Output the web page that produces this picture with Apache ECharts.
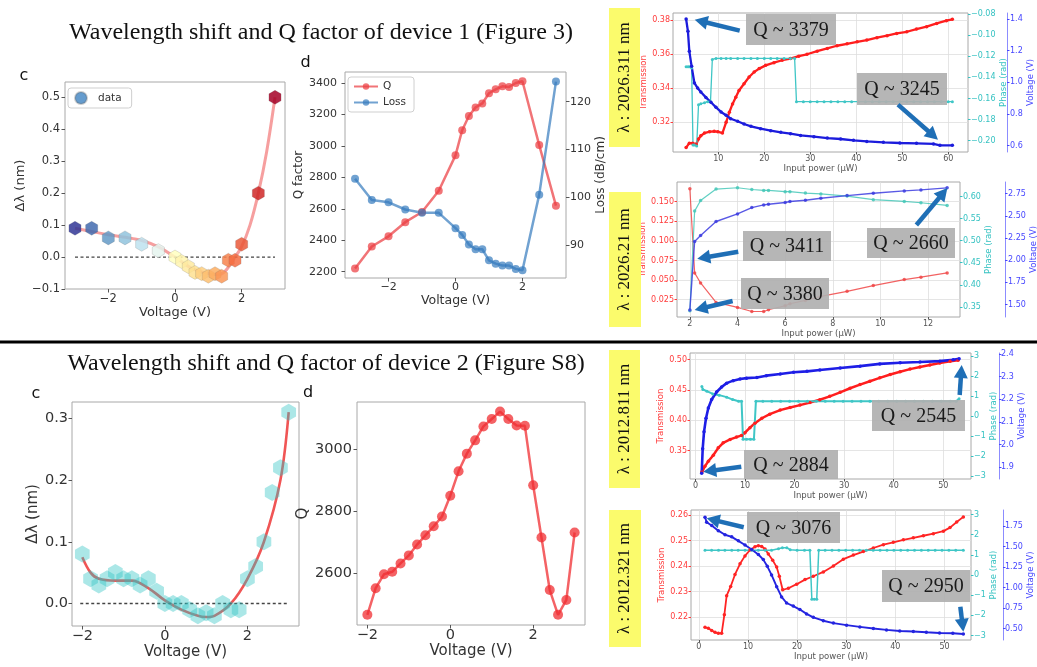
<!DOCTYPE html>
<html>
<head>
<meta charset="utf-8">
<script src="https://cdn.jsdelivr.net/npm/echarts@6/dist/echarts.min.js"></script>
<style>
  html, body { margin: 0; padding: 0; background: #fff; }
  #chart { width: 1037px; height: 667px; }
</style>
</head>
<body>
<div id="chart"></div>
<script>
// ===== Device 1 — panel c: wavelength shift vs voltage =====
const c1Voltage = [-3, -2.5, -2, -1.5, -1, -0.5, 0, 0.2, 0.4, 0.6, 0.8, 1.0, 1.2, 1.4, 1.6, 1.8, 2.0, 2.5, 3.0];
const c1Shift   = [0.09, 0.09, 0.06, 0.06, 0.04, 0.02, 0.0, -0.014, -0.03, -0.048, -0.052, -0.06, -0.052, -0.06, -0.01, -0.01, 0.04, 0.2, 0.5];
const c1FitVoltage = [-3, -2.5, -2, -1.5, -1, -0.5, 0, 0.5, 1, 1.3, 1.5, 1.75, 2, 2.25, 2.5, 2.75, 3];
const c1FitShift   = [0.09, 0.08, 0.07, 0.062, 0.052, 0.032, 0.0, -0.035, -0.052, -0.055, -0.045, -0.008, 0.033, 0.1, 0.2, 0.33, 0.5];

// ===== Device 1 — panel d: Q factor and loss vs voltage =====
const d1Voltage = [-3, -2.5, -2, -1.5, -1, -0.5, 0, 0.2, 0.4, 0.6, 0.8, 1.0, 1.2, 1.4, 1.6, 1.8, 2.0, 2.5, 3.0];
const d1Q    = [2220, 2360, 2425, 2515, 2580, 2715, 2940, 3100, 3190, 3245, 3270, 3335, 3360, 3379, 3375, 3400, 3411, 3005, 2620];
const d1Loss = [103.9, 99.5, 99.0, 97.5, 96.8, 96.8, 93.6, 92.2, 90.2, 89.2, 89.2, 86.9, 86.2, 85.8, 85.8, 85.1, 84.8, 100.6, 124.2];

// ===== Device 1 — λ 2026.311 nm sweep: [input power µW, value] =====
const r1Transmission = [[3.0,0.3052],[3.7,0.3078],[4.4,0.3078],[5.2,0.3072],[5.7,0.3102],[6.2,0.3121],[7.0,0.3137],[8.1,0.3145],[9.1,0.3147],[9.9,0.3145],[10.9,0.3137],[11.7,0.3200],[12.4,0.3259],[13.1,0.3308],[13.8,0.3347],[14.5,0.3387],[15.6,0.3426],[16.7,0.3466],[17.8,0.3495],[18.9,0.3515],[20.3,0.3534],[22.1,0.3550],[23.9,0.3564],[25.7,0.3574],[27.5,0.3588],[29.3,0.3599],[31.5,0.3617],[33.7,0.3633],[35.8,0.3649],[38.0,0.3660],[40.2,0.3672],[42.3,0.3682],[44.5,0.3696],[46.7,0.3708],[48.8,0.3721],[51.0,0.3731],[53.1,0.3747],[55.3,0.3761],[57.5,0.3780],[59.6,0.3796],[60.9,0.3804]];
const r1Phase = [[3.0,-0.130],[3.4,-0.130],[3.7,-0.130],[4.2,-0.131],[4.5,-0.204],[4.8,-0.204],[5.3,-0.205],[5.7,-0.166],[6.2,-0.165],[7.0,-0.164],[7.7,-0.163],[8.3,-0.163],[8.7,-0.123],[9.5,-0.122],[10.6,-0.122],[11.7,-0.122],[12.7,-0.122],[14.2,-0.122],[15.6,-0.122],[17.1,-0.122],[18.5,-0.122],[20.0,-0.122],[21.4,-0.122],[22.8,-0.122],[24.3,-0.122],[25.7,-0.122],[26.6,-0.122],[27.0,-0.163],[28.5,-0.163],[30.0,-0.163],[31.5,-0.163],[33.0,-0.163],[34.5,-0.163],[36.0,-0.163],[37.5,-0.163],[39.0,-0.163],[40.5,-0.163],[42.0,-0.163],[43.5,-0.163],[45.0,-0.163],[46.5,-0.163],[48.0,-0.163],[49.5,-0.163],[51.0,-0.163],[52.5,-0.163],[54.0,-0.163],[55.5,-0.163],[57.0,-0.163],[58.5,-0.163],[60.0,-0.163],[60.9,-0.163]];
const r1Voltage = [[3.0,1.400],[3.4,1.322],[3.7,1.196],[4.2,1.101],[4.8,0.996],[5.5,0.964],[6.2,0.939],[7.3,0.905],[8.4,0.874],[9.5,0.842],[10.6,0.813],[11.7,0.792],[12.7,0.770],[14.2,0.754],[15.6,0.737],[17.1,0.722],[19.2,0.707],[21.4,0.695],[23.6,0.684],[25.7,0.676],[27.9,0.665],[30.8,0.657],[33.7,0.648],[36.6,0.642],[39.4,0.634],[42.3,0.627],[45.9,0.621],[49.5,0.617],[53.1,0.615],[56.8,0.611],[58.2,0.602],[60.9,0.602]];

// ===== Device 1 — λ 2026.21 nm sweep =====
const r2Power        = [2.0, 2.2, 2.45, 3.1, 4.0, 4.6, 5.1, 5.3, 6.0, 6.2, 6.85, 7.5, 8.6, 9.7, 11.0, 11.7, 12.8];
const r2Transmission = [0.1663, 0.0592, 0.0464, 0.0216, 0.0152, 0.0100, 0.0100, 0.0122, 0.0173, 0.0199, 0.0241, 0.0293, 0.0357, 0.0430, 0.0507, 0.0537, 0.0592];
const r2Phase        = [0.341, 0.567, 0.591, 0.617, 0.620, 0.616, 0.614, 0.614, 0.611, 0.611, 0.608, 0.606, 0.601, 0.593, 0.589, 0.586, 0.580];
const r2Voltage      = [1.44, 2.21, 2.277, 2.435, 2.521, 2.592, 2.622, 2.63, 2.649, 2.66, 2.675, 2.697, 2.727, 2.754, 2.78, 2.791, 2.814];

// ===== Device 2 — panel c =====
const c2Voltage = [-2.0, -1.8, -1.6, -1.4, -1.2, -1.0, -0.8, -0.6, -0.4, -0.2, 0.0, 0.2, 0.4, 0.6, 0.8, 1.0, 1.2, 1.4, 1.6, 1.8, 2.0, 2.2, 2.4, 2.6, 2.8, 3.0];
const c2Shift   = [0.08, 0.04, 0.03, 0.04, 0.05, 0.04, 0.04, 0.03, 0.04, 0.02, 0.0, 0.0, 0.0, -0.01, -0.02, -0.015, -0.02, 0.0, -0.01, -0.01, 0.04, 0.06, 0.10, 0.18, 0.22, 0.31];
const c2FitVoltage = [-2.0, -1.8, -1.6, -1.2, -0.8, -0.4, 0.0, 0.4, 0.8, 1.0, 1.2, 1.6, 2.0, 2.4, 2.8, 3.0];
const c2FitShift   = [0.075, 0.05, 0.04, 0.037, 0.037, 0.025, 0.005, -0.01, -0.02, -0.022, -0.02, 0.0, 0.04, 0.10, 0.20, 0.31];

// ===== Device 2 — panel d =====
const d2Voltage = [-2.0, -1.8, -1.6, -1.4, -1.2, -1.0, -0.8, -0.6, -0.4, -0.2, 0.0, 0.2, 0.4, 0.6, 0.8, 1.0, 1.2, 1.4, 1.6, 1.8, 2.0, 2.2, 2.4, 2.6, 2.8, 3.0];
const d2Q       = [2465, 2551, 2596, 2604, 2631, 2657, 2692, 2722, 2751, 2783, 2850, 2929, 2986, 3029, 3074, 3098, 3122, 3098, 3077, 3076, 2884, 2715, 2545, 2465, 2513, 2731];

// ===== Device 2 — λ 2012.811 nm sweep =====
const r3Transmission = [[1.3,0.3144],[1.9,0.3239],[2.6,0.3322],[3.6,0.3422],[4.6,0.3544],[5.6,0.3628],[7.0,0.3683],[8.3,0.3722],[9.3,0.3750],[10.0,0.3794],[11.0,0.3878],[12.0,0.3950],[13.4,0.4033],[15.0,0.4100],[17.1,0.4167],[19.1,0.4211],[21.1,0.4250],[23.1,0.4294],[25.1,0.4339],[27.1,0.4394],[29.2,0.4461],[31.2,0.4528],[33.2,0.4589],[35.2,0.4644],[37.2,0.4700],[39.3,0.4756],[41.3,0.4800],[43.3,0.4844],[45.3,0.4878],[47.3,0.4911],[49.3,0.4944],[51.4,0.4972],[53.0,0.4989]];
const r3Phase = [[1.3,1.47],[1.5,1.32],[2.3,1.24],[3.5,1.10],[4.8,1.04],[6.3,0.94],[7.5,0.82],[8.7,0.74],[9.3,0.74],[9.6,-1.16],[10.3,-1.16],[11.1,-1.16],[11.8,-1.16],[12.2,0.74],[13.6,0.74],[15.4,0.74],[17.2,0.74],[19.0,0.74],[20.8,0.74],[22.6,0.74],[24.4,0.74],[26.2,0.74],[28.0,0.74],[29.8,0.74],[31.6,0.74],[33.4,0.74],[35.2,0.74],[37.0,0.74],[38.8,0.74],[40.6,0.74],[42.4,0.74],[44.2,0.74],[46.0,0.74],[47.8,0.74],[49.6,0.74],[51.4,0.74],[52.6,0.74],[53.2,0.86]];
const r3Voltage = [[1.26,1.873],[1.46,1.981],[1.73,2.056],[2.13,2.116],[2.6,2.161],[3.27,2.199],[4.27,2.232],[5.28,2.254],[6.3,2.271],[7.6,2.282],[9.0,2.289],[10.3,2.293],[12.4,2.296],[14.3,2.304],[17.1,2.311],[19.8,2.319],[22.5,2.323],[25.1,2.329],[29.2,2.338],[33.2,2.346],[37.2,2.356],[41.3,2.361],[45.3,2.364],[49.3,2.368],[52.0,2.374],[53.2,2.379]];

// ===== Device 2 — λ 2012.321 nm sweep =====
const r4Transmission = [[1.25,0.2160],[1.93,0.2156],[2.61,0.2147],[3.29,0.2140],[3.96,0.2136],[4.64,0.2136],[5.19,0.2209],[5.66,0.2284],[6.48,0.2320],[7.36,0.2367],[8.38,0.2409],[9.39,0.2440],[10.41,0.2463],[11.43,0.2476],[12.11,0.2480],[12.79,0.2477],[13.47,0.2467],[14.14,0.2447],[15.03,0.2423],[15.84,0.2396],[16.38,0.2360],[17.06,0.2307],[18.22,0.2313],[19.91,0.2329],[21.61,0.2347],[23.3,0.2360],[25.34,0.2377],[27.38,0.2400],[29.41,0.2427],[31.45,0.2443],[33.48,0.2457],[35.52,0.2471],[37.56,0.2484],[39.59,0.2493],[41.63,0.2503],[43.66,0.2511],[45.7,0.2519],[47.73,0.2527],[49.77,0.2537],[51.13,0.2551],[52.49,0.2573],[53.84,0.2593]];
const r4Phase = [[1.25,1.23],[2.6,1.23],[4.0,1.23],[5.3,1.23],[6.7,1.23],[8.0,1.23],[9.4,1.23],[10.8,1.23],[12.1,1.23],[13.5,1.23],[14.8,1.23],[16.2,1.30],[17.0,1.35],[17.9,1.35],[18.6,1.25],[20.0,1.23],[21.5,1.23],[22.6,1.23],[23.0,-1.2],[23.5,-1.2],[24.0,-1.2],[24.4,1.23],[25.7,1.23],[27.1,1.23],[28.5,1.23],[29.9,1.23],[31.3,1.23],[32.7,1.23],[34.1,1.23],[35.5,1.23],[36.9,1.23],[38.3,1.23],[39.7,1.23],[41.1,1.23],[42.5,1.23],[43.9,1.23],[45.3,1.23],[46.7,1.23],[48.1,1.23],[49.5,1.23],[50.9,1.23],[52.3,1.23],[53.84,1.23]];
const r4Voltage = [[1.25,1.858],[1.59,1.796],[2.61,1.755],[3.96,1.693],[5.32,1.643],[6.68,1.618],[8.04,1.569],[9.39,1.519],[10.75,1.464],[12.11,1.402],[13.12,1.34],[13.93,1.258],[14.8,1.154],[15.84,1.01],[16.84,0.885],[17.86,0.811],[19.22,0.774],[20.57,0.731],[21.93,0.678],[23.3,0.637],[25.34,0.595],[27.38,0.566],[30.07,0.541],[32.78,0.52],[35.52,0.5],[38.2,0.483],[40.9,0.47],[43.66,0.463],[46.3,0.454],[49.0,0.446],[51.7,0.442],[53.84,0.433]];

// ===== Tick values =====
const ticksVoltageC = [-2, 0, 2];
const ticksC1Shift = [-0.1, 0, 0.1, 0.2, 0.3, 0.4, 0.5];
const ticksD1Q = [2200, 2400, 2600, 2800, 3000, 3200, 3400];
const ticksD1Loss = [90, 100, 110, 120];
const ticksR1Power = [10, 20, 30, 40, 50, 60];
const ticksR1Trans = [0.32, 0.34, 0.36, 0.38];
const ticksR1Phase = [-0.20, -0.18, -0.16, -0.14, -0.12, -0.10, -0.08];
const ticksR1Volt = [0.6, 0.8, 1.0, 1.2, 1.4];
const ticksR2Power = [2, 4, 6, 8, 10, 12];
const ticksR2Trans = [0.025, 0.05, 0.075, 0.1, 0.125, 0.15];
const ticksR2Phase = [0.35, 0.40, 0.45, 0.50, 0.55, 0.60];
const ticksR2Volt = [1.5, 1.75, 2.0, 2.25, 2.5, 2.75];
const ticksC2Shift = [0, 0.1, 0.2, 0.3];
const ticksD2Q = [2600, 2800, 3000];
const ticksR34Power = [0, 10, 20, 30, 40, 50];
const ticksR3Trans = [0.35, 0.40, 0.45, 0.50];
const ticksPhaseRad = [-3, -2, -1, 0, 1, 2, 3];
const ticksR3Volt = [1.9, 2.0, 2.1, 2.2, 2.3, 2.4];
const ticksR4Trans = [0.22, 0.23, 0.24, 0.25, 0.26];
const ticksR4Volt = [0.5, 0.75, 1.0, 1.25, 1.5, 1.75];

// ===== Styling helpers =====
const SANS = 'DejaVu Sans';
const SERIF = '"Liberation Serif", "Times New Roman", serif';
const RdYlBu_r = ['#313695','#4575b4','#74add1','#abd9e9','#e0f3f8','#ffffbf','#fee090','#fdae61','#f46d43','#d73027','#a50026'];
const HEX = 'path://M0,-10L8.66,-5L8.66,5L0,10L-8.66,5L-8.66,-5Z';
const zip = (xs, ys) => xs.map((x, i) => [x, ys[i]]);
const fmt = d => v => (v < -1e-9 ? '\u2212' : '') + Math.abs(v).toFixed(d);

function valueAxis(o) {
  return {
    type: 'value', gridIndex: o.grid, min: o.min, max: o.max,
    position: o.pos, offset: o.offset || 0,
    axisLine: { show: !!o.line, onZero: false, lineStyle: { color: o.line || '#999', width: 1 } },
    axisTick: { show: true, customValues: o.ticks, length: o.tickLen || 3.5, lineStyle: { color: o.tickColor || '#555', width: 1 } },
    axisLabel: { customValues: o.ticks, formatter: fmt(o.dec), color: o.color || '#333', fontFamily: SANS, fontSize: o.fs, margin: o.margin == null ? 4 : o.margin },
    splitLine: { show: !!o.split, lineStyle: { color: '#dedede', width: 0.8 } },
    name: o.name || '', nameLocation: 'middle', nameGap: o.nameGap || 10,
    nameTextStyle: { color: o.nameColor || o.color || '#333', fontFamily: SANS, fontSize: o.nameFs || o.fs }
  };
}

function lineSeries(id, xi, yi, data, color, width, size, extra) {
  return Object.assign({
    type: 'line', id, name: id, xAxisIndex: xi, yAxisIndex: yi, data,
    symbol: 'circle', symbolSize: size, showSymbol: size > 0,
    lineStyle: { color, width }, itemStyle: { color }, silent: true, z: 2
  }, extra || {});
}

// ===== Panel boxes =====
const grids = [
  { left: 65,  top: 82,  width: 220, height: 207 },  // device 1 — c
  { left: 345, top: 72,  width: 221, height: 206 },  // device 1 — d
  { left: 673, top: 13,  width: 295, height: 139 },  // device 1 — 2026.311 nm
  { left: 677, top: 182, width: 283, height: 135 },  // device 1 — 2026.21 nm
  { left: 72,  top: 402, width: 227, height: 224 },  // device 2 — c
  { left: 357, top: 402, width: 228, height: 223 },  // device 2 — d
  { left: 690, top: 353, width: 281, height: 126 },  // device 2 — 2012.811 nm
  { left: 691, top: 510, width: 280, height: 130 }   // device 2 — 2012.321 nm
].map(g => Object.assign({ show: true, borderColor: '#a8a8a8', borderWidth: 1, backgroundColor: 'transparent', outerBoundsMode: 'none', containLabel: false }, g));

const TRED = '#ff3b3b', TCYAN = '#35c2c2', TBLUE = '#4646ff';
const RFS = 8;

const xAxes = [
  valueAxis({ grid: 0, min: -3.3, max: 3.3, ticks: ticksVoltageC, dec: 0, fs: 11.5, name: 'Voltage (V)', nameFs: 13, nameGap: 17, margin: 4 }),
  valueAxis({ grid: 1, min: -3.3, max: 3.3, ticks: ticksVoltageC, dec: 0, fs: 11, name: 'Voltage (V)', nameFs: 12.5, nameGap: 16, margin: 4 }),
  valueAxis({ grid: 2, min: 0.15, max: 64.3, ticks: ticksR1Power, dec: 0, fs: RFS, color: '#555', name: 'Input power (\u03bcW)', nameFs: 8.5, nameGap: 11, margin: 3, tickLen: 2.5, split: true }),
  valueAxis({ grid: 3, min: 1.46, max: 13.34, ticks: ticksR2Power, dec: 0, fs: RFS, color: '#555', name: 'Input power (\u03bcW)', nameFs: 8.5, nameGap: 10, margin: 3, tickLen: 2.5, split: true }),
  valueAxis({ grid: 4, min: -2.25, max: 3.25, ticks: ticksVoltageC, dec: 0, fs: 14.5, name: 'Voltage (V)', nameFs: 15, nameGap: 17, margin: 3 }),
  valueAxis({ grid: 5, min: -2.25, max: 3.25, ticks: ticksVoltageC, dec: 0, fs: 14.5, name: 'Voltage (V)', nameFs: 15, nameGap: 17, margin: 3 }),
  valueAxis({ grid: 6, min: -1.1, max: 55.6, ticks: ticksR34Power, dec: 0, fs: RFS, color: '#555', name: 'Input power (\u03bcW)', nameFs: 8.5, nameGap: 11, margin: 3, tickLen: 2.5, split: true }),
  valueAxis({ grid: 7, min: -1.6, max: 55.4, ticks: ticksR34Power, dec: 0, fs: RFS, color: '#555', name: 'Input power (\u03bcW)', nameFs: 8.5, nameGap: 10, margin: 3, tickLen: 2.5, split: true })
];

const yAxes = [
  // 0 device 1 — c
  valueAxis({ grid: 0, min: -0.1, max: 0.548, ticks: ticksC1Shift, dec: 1, fs: 11.5, name: '\u0394\u03bb (nm)', nameFs: 13, nameGap: 38, margin: 5 }),
  // 1–2 device 1 — d
  valueAxis({ grid: 1, min: 2160, max: 3470, ticks: ticksD1Q, dec: 0, fs: 11, name: 'Q factor', nameFs: 12, nameGap: 39, margin: 8 }),
  valueAxis({ grid: 1, pos: 'right', min: 83.2, max: 126.2, ticks: ticksD1Loss, dec: 0, fs: 11, name: 'Loss (dB/cm)', nameFs: 12, nameGap: 22, margin: 4 }),
  // 3–5 device 1 — 2026.311 nm
  valueAxis({ grid: 2, min: 0.3026, max: 0.3841, ticks: ticksR1Trans, dec: 2, fs: RFS, color: TRED, tickColor: TRED, name: 'Transmission', nameFs: 8.5, nameGap: 25, margin: 3, tickLen: 2.5, split: true }),
  valueAxis({ grid: 2, pos: 'right', min: -0.2107, max: -0.0790, ticks: ticksR1Phase, dec: 2, fs: RFS, color: TCYAN, tickColor: TCYAN, name: 'Phase (rad)', nameFs: 8.5, nameGap: 30, margin: 3, tickLen: 2.5 }),
  valueAxis({ grid: 2, pos: 'right', offset: 39, line: '#8c8cff', min: 0.560, max: 1.438, ticks: ticksR1Volt, dec: 1, fs: RFS, color: TBLUE, tickColor: TBLUE, name: 'Voltage (V)', nameFs: 8.5, nameGap: 18, margin: 3, tickLen: 2.5 }),
  // 6–8 device 1 — 2026.21 nm
  valueAxis({ grid: 3, min: 0.003, max: 0.175, ticks: ticksR2Trans, dec: 3, fs: RFS, color: TRED, tickColor: TRED, name: 'Transmission', nameFs: 8.5, nameGap: 29, margin: 3, tickLen: 2.5, split: true }),
  valueAxis({ grid: 3, pos: 'right', min: 0.327, max: 0.633, ticks: ticksR2Phase, dec: 2, fs: RFS, color: TCYAN, tickColor: TCYAN, name: 'Phase (rad)', nameFs: 8.5, nameGap: 23, margin: 3, tickLen: 2.5 }),
  valueAxis({ grid: 3, pos: 'right', offset: 45, line: '#8c8cff', min: 1.36, max: 2.88, ticks: ticksR2Volt, dec: 2, fs: RFS, color: TBLUE, tickColor: TBLUE, name: 'Voltage (V)', nameFs: 8.5, nameGap: 19, margin: 3, tickLen: 2.5 }),
  // 9 device 2 — c
  valueAxis({ grid: 4, min: -0.0365, max: 0.3265, ticks: ticksC2Shift, dec: 1, fs: 14.5, name: '\u0394\u03bb (nm)', nameFs: 15, nameGap: 31, margin: 4 }),
  // 10 device 2 — d
  valueAxis({ grid: 5, min: 2432, max: 3153, ticks: ticksD2Q, dec: 0, fs: 14.5, name: 'Q', nameFs: 15, nameGap: 46, margin: 5 }),
  // 11–13 device 2 — 2012.811 nm
  valueAxis({ grid: 6, min: 0.303, max: 0.511, ticks: ticksR3Trans, dec: 2, fs: RFS, color: TRED, tickColor: TRED, name: 'Transmission', nameFs: 8.5, nameGap: 23, margin: 3, tickLen: 2.5, split: true }),
  valueAxis({ grid: 6, pos: 'right', min: -3.1416, max: 3.1416, ticks: ticksPhaseRad, dec: 0, fs: RFS, color: TCYAN, tickColor: TCYAN, name: 'Phase (rad)', nameFs: 8.5, nameGap: 15, margin: 3, tickLen: 2.5 }),
  valueAxis({ grid: 6, pos: 'right', offset: 28, line: '#8c8cff', min: 1.848, max: 2.404, ticks: ticksR3Volt, dec: 1, fs: RFS, color: TBLUE, tickColor: TBLUE, name: 'Voltage (V)', nameFs: 8.5, nameGap: 16, margin: 2, tickLen: 2.5 }),
  // 14–16 device 2 — 2012.321 nm
  valueAxis({ grid: 7, min: 0.211, max: 0.262, ticks: ticksR4Trans, dec: 2, fs: RFS, color: TRED, tickColor: TRED, name: 'Transmission', nameFs: 8.5, nameGap: 21, margin: 3, tickLen: 2.5, split: true }),
  valueAxis({ grid: 7, pos: 'right', min: -3.22, max: 3.22, ticks: ticksPhaseRad, dec: 0, fs: RFS, color: TCYAN, tickColor: TCYAN, name: 'Phase (rad)', nameFs: 8.5, nameGap: 15, margin: 3, tickLen: 2.5 }),
  valueAxis({ grid: 7, pos: 'right', offset: 32, line: '#8c8cff', min: 0.36, max: 1.945, ticks: ticksR4Volt, dec: 2, fs: RFS, color: TBLUE, tickColor: TBLUE, name: 'Voltage (V)', nameFs: 8.5, nameGap: 16, margin: 2, tickLen: 2.5 })
];

const zeroLine = (id, xi, yi, x0, x1) => lineSeries(id, xi, yi, [[x0, 0], [x1, 0]], '#444', 1.3, 0, { lineStyle: { color: '#444', width: 1.3, type: [3, 2.5] }, z: 1 });

const series = [
  // device 1 — c
  lineSeries('c1fit', 0, 0, zip(c1FitVoltage, c1FitShift), 'rgba(240,95,95,0.6)', 3, 0, { smooth: 0.35, z: 1 }),
  zeroLine('c1zero', 0, 0, -3, 3),
  { type: 'scatter', id: 'c1data', name: 'data', xAxisIndex: 0, yAxisIndex: 0, data: zip(c1Voltage, c1Shift),
    symbol: HEX, symbolKeepAspect: true, symbolSize: 14, itemStyle: { opacity: 0.85, borderColor: 'rgba(90,90,90,0.35)', borderWidth: 0.6 }, silent: true, z: 3 },
  // device 1 — d
  lineSeries('Q', 1, 1, zip(d1Voltage, d1Q), 'rgba(236,62,66,0.72)', 2.5, 8),
  lineSeries('Loss', 1, 2, zip(d1Voltage, d1Loss), 'rgba(52,122,190,0.7)', 2.5, 8),
  // device 1 — 2026.311 nm
  lineSeries('r1t', 2, 3, r1Transmission, '#ff1e1e', 2.3, 3.5),
  lineSeries('r1p', 2, 4, r1Phase, '#3fc6c6', 1.3, 3),
  lineSeries('r1v', 2, 5, r1Voltage, '#1c1cdc', 2.3, 3.5),
  // device 1 — 2026.21 nm
  lineSeries('r2t', 3, 6, zip(r2Power, r2Transmission), 'rgba(240,70,70,0.85)', 1.2, 3.5),
  lineSeries('r2p', 3, 7, zip(r2Power, r2Phase), 'rgba(70,200,185,0.85)', 1.2, 3.5),
  lineSeries('r2v', 3, 8, zip(r2Power, r2Voltage), 'rgba(60,60,225,0.85)', 1.4, 3.5),
  // device 2 — c
  lineSeries('c2fit', 4, 9, zip(c2FitVoltage, c2FitShift), '#f05555', 2.6, 0, { smooth: 0.35, z: 1 }),
  zeroLine('c2zero', 4, 9, -2.05, 3.0),
  { type: 'scatter', id: 'c2data', name: 'c2data', xAxisIndex: 4, yAxisIndex: 9, data: zip(c2Voltage, c2Shift),
    symbol: HEX, symbolKeepAspect: true, symbolSize: 17, itemStyle: { color: 'rgba(45,196,196,0.5)' }, silent: true, z: 3 },
  // device 2 — d
  lineSeries('d2q', 5, 10, zip(d2Voltage, d2Q), 'rgba(240,45,50,0.75)', 2.5, 10),
  // device 2 — 2012.811 nm
  lineSeries('r3t', 6, 11, r3Transmission, '#ff1e1e', 2.5, 3.5),
  lineSeries('r3p', 6, 12, r3Phase, '#3fc6c6', 2, 3),
  lineSeries('r3v', 6, 13, r3Voltage, '#1e1ee6', 2.6, 3.5),
  // device 2 — 2012.321 nm
  lineSeries('r4t', 7, 14, r4Transmission, '#ff2424', 1.8, 3.5),
  lineSeries('r4p', 7, 15, r4Phase, '#3fc6c6', 1.5, 3),
  lineSeries('r4v', 7, 16, r4Voltage, '#2424e0', 1.9, 3.5)
];

const option = {
  animation: false,
  textStyle: { fontFamily: SANS },
  grid: grids,
  xAxis: xAxes,
  yAxis: yAxes,
  visualMap: [{ type: 'continuous', show: false, seriesIndex: 2, dimension: 0, min: -3, max: 3, inRange: { color: RdYlBu_r } }],
  legend: [
    { left: 68, top: 88, data: [{ name: 'data', icon: 'circle', itemStyle: { color: '#4a8bc6' } }],
      itemWidth: 12, itemHeight: 12, itemGap: 4, padding: [3, 10, 3, 6], borderColor: '#cfcfcf', borderWidth: 1, borderRadius: 3,
      textStyle: { fontFamily: SANS, fontSize: 10.5, color: '#333', padding: [0, 0, 0, 6] }, selectedMode: false },
    { left: 348, top: 77, orient: 'vertical', data: ['Q', 'Loss'],
      itemWidth: 24, itemHeight: 8, itemGap: 5, padding: [4, 8, 4, 5], borderColor: '#cfcfcf', borderWidth: 1, borderRadius: 3,
      textStyle: { fontFamily: SANS, fontSize: 10.5, color: '#333' }, selectedMode: false }
  ],
  series
};

const chart = echarts.init(document.getElementById('chart'), null, { renderer: 'canvas' });
chart.setOption(option);

// ===== Annotations: titles, wavelength tags, Q callouts and arrows =====
function textEl(x, y, text, font, fill, rotation) {
  return { type: 'text', x, y, rotation: rotation || 0, silent: true, z: 100,
    style: { text, font, fill, align: 'center', verticalAlign: 'middle', textAlign: 'center', textVerticalAlign: 'middle' } };
}
function rectEl(x, y, w, h, fill, z) {
  return { type: 'rect', shape: { x, y, width: w, height: h }, style: { fill }, silent: true, z: z || 99 };
}
function arrowEls(tip, tail, color) {
  const dx = tip[0] - tail[0], dy = tip[1] - tail[1], L = Math.hypot(dx, dy);
  const ux = dx / L, uy = dy / L, nx = -uy, ny = ux;
  const hl = 13, hw = 7;
  const bx = tip[0] - ux * hl, by = tip[1] - uy * hl;
  return [
    { type: 'line', shape: { x1: tail[0], y1: tail[1], x2: bx + ux, y2: by + uy }, style: { stroke: color, lineWidth: 4.5 }, silent: true, z: 110 },
    { type: 'polygon', shape: { points: [[tip[0], tip[1]], [bx + nx * hw, by + ny * hw], [bx - nx * hw, by - ny * hw]] }, style: { fill: color }, silent: true, z: 110 }
  ];
}

const wavelengthTags = [
  { box: [609, 8, 31, 139], text: '\u03bb : 2026.311 nm' },
  { box: [609, 192, 32, 135], text: '\u03bb : 2026.21 nm' },
  { box: [609, 350, 31, 138], text: '\u03bb : 2012.811 nm' },
  { box: [609, 510, 32, 137], text: '\u03bb : 2012.321 nm' }
];
const qCallouts = [
  { box: [746, 14, 90, 31], text: 'Q ~ 3379' },
  { box: [857, 73, 90, 32], text: 'Q ~ 3245' },
  { box: [743, 231, 88, 30], text: 'Q ~ 3411' },
  { box: [741, 278, 88, 31], text: 'Q ~ 3380' },
  { box: [867, 228, 88, 30], text: 'Q ~ 2660' },
  { box: [744, 450, 94, 29], text: 'Q ~ 2884' },
  { box: [872, 400, 93, 31], text: 'Q ~ 2545' },
  { box: [747, 512, 93, 31], text: 'Q ~ 3076' },
  { box: [882, 570, 88, 32], text: 'Q ~ 2950' }
];
// arrow tips sit on the voltage trace (data coordinates); tails are pixel offsets from the tip
const arrowDefs = [
  { series: 'r1v', at: [4.87, 1.396], tail: [45, 11] },
  { series: 'r1v', at: [57.77, 0.638], tail: [-40, -35] },
  { series: 'r2v', at: [2.31, 2.016], tail: [41, -7] },
  { series: 'r2v', at: [2.20, 1.439], tail: [38, -9] },
  { series: 'r2v', at: [12.81, 2.812], tail: [-31, 37] },
  { series: 'r3v', at: [1.58, 1.880], tail: [38, -5] },
  { series: 'r3v', at: [53.72, 2.351], tail: [-2, 30] },
  { series: 'r4v', at: [1.6, 1.844], tail: [37, 9] },
  { series: 'r4v', at: [53.84, 0.461], tail: [-3, -25] }
];

const elements = [];
elements.push(textEl(321, 33, 'Wavelength shift and Q factor of device 1 (Figure 3)', '24px ' + SERIF, '#111'));
elements.push(textEl(326, 364, 'Wavelength shift and Q factor of device 2 (Figure S8)', '24px ' + SERIF, '#111'));
elements.push(rectEl(0, 340.5, 1037, 3, '#000', 50));
elements.push(textEl(24, 76, 'c', '16px ' + SANS, '#111'));
elements.push(textEl(305.5, 63, 'd', '16px ' + SANS, '#111'));
elements.push(textEl(36, 394, 'c', '16px ' + SANS, '#111'));
elements.push(textEl(308, 393, 'd', '16px ' + SANS, '#111'));
wavelengthTags.forEach(t => {
  const [x, y, w, h] = t.box;
  elements.push(rectEl(x, y, w, h, '#fbfb6c'));
  elements.push(textEl(x + w / 2, y + h / 2, t.text, '17px ' + SERIF, '#111', Math.PI / 2));
});
qCallouts.forEach(c => {
  const [x, y, w, h] = c.box;
  elements.push(rectEl(x, y, w, h, 'rgba(176,176,176,0.92)'));
  elements.push(textEl(x + w / 2, y + h / 2 + 1, c.text, '20px ' + SERIF, '#1a1a1a'));
});
arrowDefs.forEach(a => {
  const tip = chart.convertToPixel({ seriesId: a.series }, a.at);
  const tail = [tip[0] + a.tail[0], tip[1] + a.tail[1]];
  elements.push(...arrowEls(tip, tail, '#1f6fb6'));
});

chart.setOption({ graphic: { elements } });
</script>
</body>
</html>
